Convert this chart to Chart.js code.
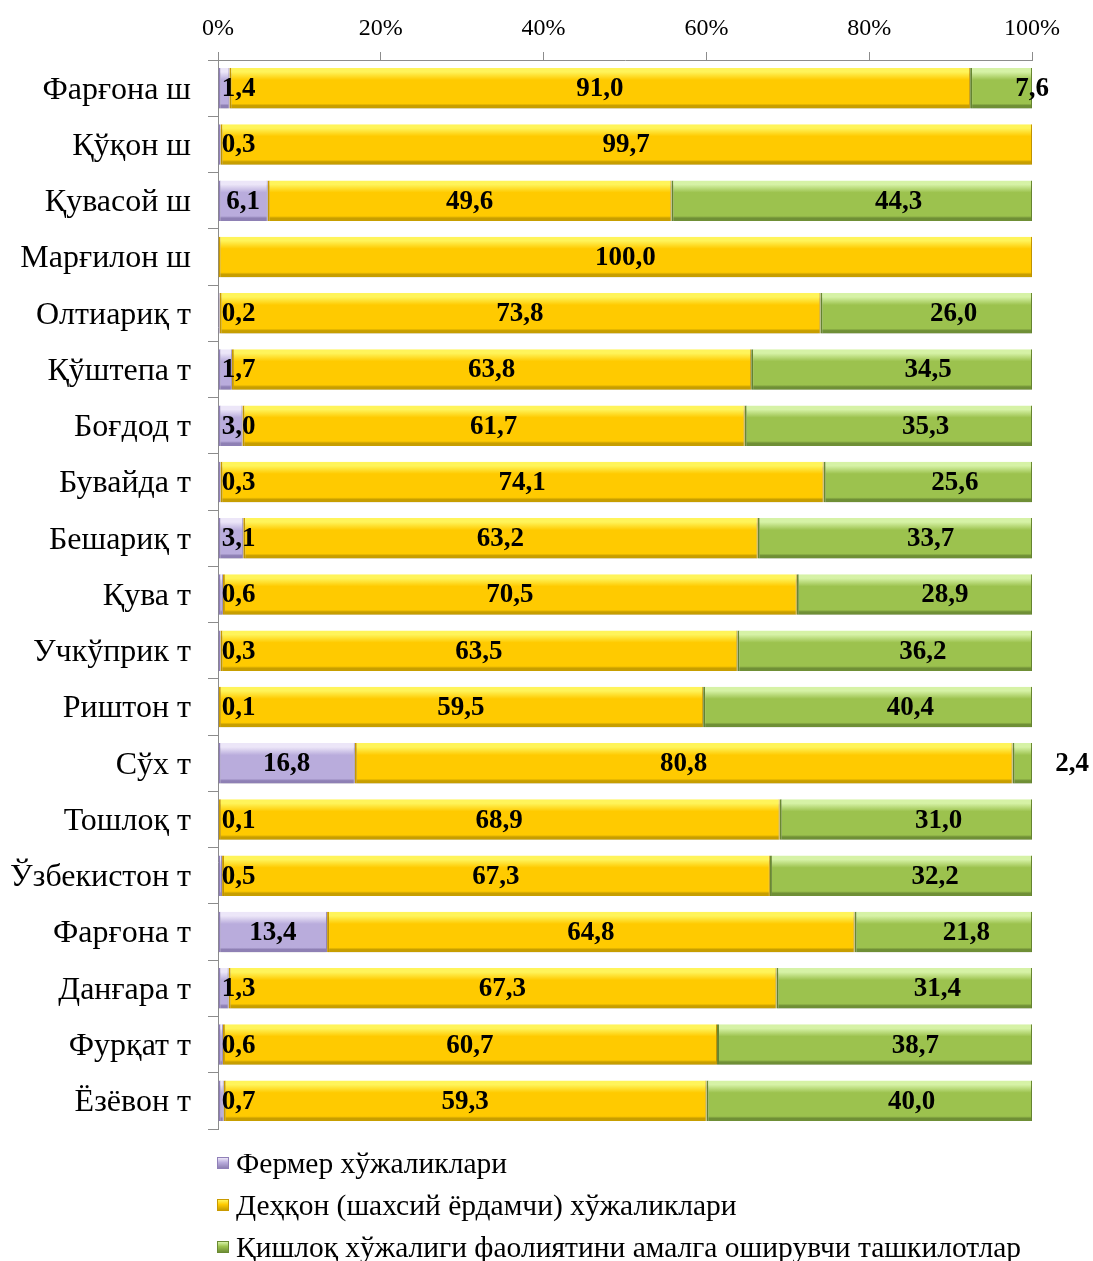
<!DOCTYPE html>
<html lang="uz">
<head>
  <meta charset="UTF-8" />
  <title>Хўжалик турлари улуши</title>
  <script src="https://cdn.jsdelivr.net/npm/chart.js"></script>
  <style>
    html, body { margin: 0; padding: 0; background: #fff; overflow: hidden; }
    #wrap { position: relative; width: 1093px; height: 1261px; }
    #legend {
      position: absolute; left: 217px; top: 1142px;
      font-family: "Liberation Serif", "Times New Roman", serif; font-size: 29.5px; color: #000;
    }
    .item { display: flex; align-items: center; height: 42px; white-space: nowrap; }
    .box { width: 12px; height: 12px; margin-right: 7px; box-sizing: border-box; }
  </style>
</head>
<body>
<div id="wrap">
  <canvas id="shareChart"></canvas>
  <div id="legend"></div>
</div>

<script>
  // туманлар ва шаҳарлар
  const categories = ['Фарғона ш', 'Қўқон ш', 'Қувасой ш', 'Марғилон ш', 'Олтиариқ т', 'Қўштепа т',
    'Боғдод т', 'Бувайда т', 'Бешариқ т', 'Қува т', 'Учкўприк т', 'Риштон т', 'Сўх т', 'Тошлоқ т',
    'Ўзбекистон т', 'Фарғона т', 'Данғара т', 'Фурқат т', 'Ёзёвон т'];

  const seriesNames = ['Фермер хўжаликлари', 'Деҳқон (шахсий ёрдамчи) хўжаликлари',
    'Қишлоқ хўжалиги фаолиятини амалга оширувчи ташкилотлар'];

  // улуши, %
  const fermer = [1.4, 0.3, 6.1, 0, 0.2, 1.7, 3.0, 0.3, 3.1, 0.6, 0.3, 0.1, 16.8, 0.1, 0.5, 13.4, 1.3, 0.6, 0.7];
  const dehqon = [91.0, 99.7, 49.6, 100.0, 73.8, 63.8, 61.7, 74.1, 63.2, 70.5, 63.5, 59.5, 80.8, 68.9, 67.3, 64.8, 67.3, 60.7, 59.3];
  const tashkilot = [7.6, 0, 44.3, 0, 26.0, 34.5, 35.3, 25.6, 33.7, 28.9, 36.2, 40.4, 2.4, 31.0, 32.2, 21.8, 31.4, 38.7, 40.0];

  const tickValues = [0, 20, 40, 60, 80, 100];
  const tickLabels = ['0%', '20%', '40%', '60%', '80%', '100%'];

  const FONT = '"Liberation Serif", "Times New Roman", serif';
  const BAR_PCT = 0.72;

  // ранглар: [юқори, асосий, пастки]
  const palette = [
    ['#ece6f8', '#b9acdc', '#8e80b4'],
    ['#fff45a', '#ffca00', '#c79e00'],
    ['#d6f2a6', '#9cc24e', '#6f8f36']
  ];
  const edges = ['#9080b8', '#c99a00', '#6a8a32'];

  function barFill(ds) {
    return function (ctx) {
      const chart = ctx.chart;
      const c = palette[ds];
      if (!chart.chartArea) return c[1];
      const y = chart.scales.y;
      const yc = y.getPixelForValue(ctx.dataIndex);
      const h = (y.height / categories.length) * BAR_PCT;
      const g = chart.ctx.createLinearGradient(0, yc - h / 2, 0, yc + h / 2);
      g.addColorStop(0, c[0]);
      g.addColorStop(0.1, c[0]);
      g.addColorStop(0.3, c[1]);
      g.addColorStop(0.88, c[1]);
      g.addColorStop(0.93, c[2]);
      g.addColorStop(1, c[2]);
      return g;
    };
  }

  // бар сояси
  const shadowPlugin = {
    id: 'shadow',
    beforeDatasetsDraw(chart) {
      const c = chart.ctx;
      c.save();
      c.shadowColor = 'rgba(0,0,0,0.16)';
      c.shadowOffsetY = 5;
      c.shadowBlur = 2;
    },
    afterDatasetsDraw(chart) {
      chart.ctx.restore();
    }
  };

  // қиймат ёзувлари
  const labelPlugin = {
    id: 'valueLabels',
    afterDraw(chart) {
      const c = chart.ctx;
      c.save();
      c.font = 'bold 27px ' + FONT;
      c.fillStyle = '#000';
      c.textAlign = 'center';
      c.textBaseline = 'middle';
      chart.data.datasets.forEach((ds, di) => {
        chart.getDatasetMeta(di).data.forEach((bar, i) => {
          const v = ds.data[i];
          if (!v) return;
          const base = bar.base, end = bar.x;
          let x;
          if (di === 0) x = Math.max((base + end) / 2, base + 20);
          else if (di === 1) x = (base + end) / 2;
          else if (v < 5) x = end + 40;
          else if (v < 10) x = end;
          else x = base + 0.63 * (end - base);
          c.fillText(v.toFixed(1).replace('.', ','), x, bar.y + 1);
        });
      });
      c.restore();
    }
  };

  const ctx = document.getElementById('shareChart').getContext('2d');

  const chart = new Chart(ctx, {
    type: 'bar',
    data: {
      labels: categories,
      datasets: [fermer, dehqon, tashkilot].map((d, i) => ({
        label: seriesNames[i],
        data: d,
        backgroundColor: barFill(i),
        borderColor: edges[i],
        borderWidth: { top: 0, left: 2, right: 1, bottom: 0 },
        borderSkipped: false,
        categoryPercentage: 1,
        barPercentage: BAR_PCT
      }))
    },
    options: {
      indexAxis: 'y',
      responsive: true,
      maintainAspectRatio: false,
      animation: false,
      layout: { padding: { left: 0, right: 61, top: 0, bottom: 132 } },
      plugins: {
        legend: { display: false },
        tooltip: { enabled: false }
      },
      scales: {
        x: {
          position: 'top',
          stacked: true,
          min: 0,
          max: 100,
          afterFit(s) { s.height = 60; },
          afterBuildTicks(s) { s.ticks = tickValues.map(v => ({ value: v })); },
          ticks: {
            font: { family: FONT, size: 24 },
            color: '#000',
            padding: 9,
            callback: (v) => tickLabels[tickValues.indexOf(v)]
          },
          grid: { drawOnChartArea: false, tickLength: 8, color: '#8c8c8c' },
          border: { display: true, color: '#8c8c8c' }
        },
        y: {
          stacked: true,
          afterFit(s) { s.width = 218; },
          ticks: {
            font: { family: FONT, size: 32 },
            color: '#000',
            padding: 17,
            labelOffset: 2
          },
          grid: { offset: true, drawOnChartArea: false, tickLength: 10, color: '#8c8c8c' },
          border: { display: true, color: '#8c8c8c' }
        }
      }
    },
    plugins: [shadowPlugin, labelPlugin]
  });

  // легенда
  const legend = document.getElementById('legend');
  seriesNames.forEach((name, i) => {
    const row = document.createElement('div');
    row.className = 'item';
    const box = document.createElement('span');
    box.className = 'box';
    box.style.background = `linear-gradient(${palette[i][0]}, ${palette[i][1]} 45%, ${palette[i][2]})`;
    box.style.border = '1px solid ' + edges[i];
    const txt = document.createElement('span');
    txt.textContent = name;
    row.appendChild(box);
    row.appendChild(txt);
    legend.appendChild(row);
  });
</script>
</body>
</html>
